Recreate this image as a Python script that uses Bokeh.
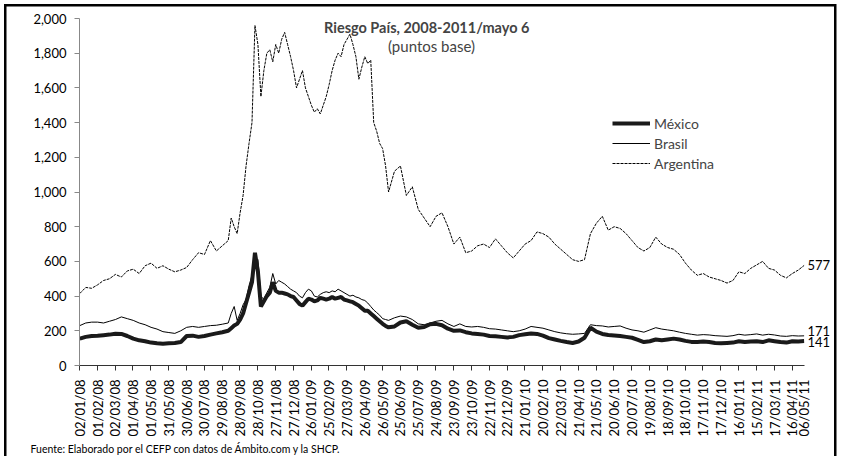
from datetime import datetime

from bokeh.plotting import figure
from bokeh.models import (FixedTicker, NumeralTickFormatter, Label, Legend, LegendItem,
                          Range1d, ColumnDataSource, LinearAxis, Title)
from bokeh.embed import file_html
from bokeh.resources import INLINE

# ---------------- data ----------------
start_date = "02/01/08"

tick_labels = ["02/01/08", "01/02/08", "02/03/08", "01/04/08", "01/05/08", "31/05/08",
               "30/06/08", "30/07/08", "29/08/08", "28/09/08", "28/10/08", "27/11/08",
               "27/12/08", "26/01/09", "25/02/09", "27/03/09", "26/04/09", "26/05/09",
               "25/06/09", "25/07/09", "24/08/09", "23/09/09", "23/10/09", "22/11/09",
               "22/12/09", "21/01/10", "20/02/10", "22/03/10", "21/04/10", "21/05/10",
               "20/06/10", "20/07/10", "19/08/10", "18/09/10", "18/10/10", "17/11/10",
               "17/12/10", "16/01/11", "15/02/11", "17/03/11", "16/04/11", "06/05/11"]

# observation days (days after 02/01/08): every 10 days, every 5 days in the 2008-09 crisis
obs_days = list(range(0, 250, 10)) + list(range(250, 520, 5)) + list(range(520, 1221, 10))

mexico = [155, 165, 170, 172, 175, 178, 183, 182, 170, 155, 145, 140, 132, 128, 125, 128,
          130, 135, 170, 172, 165, 170, 178, 185, 192,
          200, 215, 230, 240, 265, 300, 360, 420, 480, 650,
          540, 340, 370, 400, 420, 480, 430, 420, 420, 415,
          410, 400, 395, 375, 355, 345, 365, 385, 380, 370,
          375, 390, 385, 380, 385, 395, 385, 390, 395, 380,
          375, 370, 365, 355, 345, 330, 315, 315, 300, 285,
          270, 255, 240, 228,
          220, 225, 248, 255, 235, 218, 222, 238, 240, 232,
          212, 200, 202, 192, 185, 182, 178, 170, 168, 165,
          162, 165, 175, 180, 185, 182, 172, 158, 150, 142,
          135, 130, 138, 160, 218, 195, 182, 176, 173, 170,
          165, 160, 148, 135, 140, 150, 145, 150, 155, 150,
          142, 136, 135, 138, 135, 130, 128, 130, 132, 140,
          135, 138, 140, 135, 145, 140, 135, 132, 140, 138,
          141]

brasil = [230, 245, 250, 250, 245, 255, 265, 280, 270, 260, 245, 235, 220, 210, 195, 190,
          185, 200, 220, 225, 220, 225, 230, 232, 238,
          245, 300, 340, 260, 300, 350, 380, 460, 520, 580,
          610, 400, 380, 420, 450, 530, 470, 490, 480, 470,
          455, 440, 430, 420, 400, 390, 420, 440, 430, 400,
          395, 410, 420, 425, 420, 430, 425, 440, 430, 420,
          410, 400, 405, 395, 390, 380, 375, 360, 340, 320,
          305, 290, 270, 265,
          260, 275, 285, 280, 265, 240, 235, 245, 255, 260,
          240, 225, 240, 225, 222, 225, 220, 212, 210, 205,
          200, 195, 200, 210, 225, 220, 215, 205, 195, 188,
          183, 180, 182, 185, 235, 230, 228, 222, 225, 228,
          215, 205, 200, 192, 205, 218, 210, 205, 200, 192,
          185, 180, 175, 178, 176, 172, 170, 168, 172, 180,
          175, 178, 182, 175, 180, 176, 170, 168, 172, 170,
          171]

argentina = [415, 450, 445, 465, 490, 500, 525, 510, 545, 555, 530, 575, 590, 560, 575, 555,
             540, 550, 565, 610, 650, 640, 720, 660, 690,
             720, 850, 800, 760, 880, 980, 1150, 1280, 1400, 1960,
             1850, 1550, 1700, 1800, 1820, 1750, 1850, 1800, 1880, 1920,
             1850, 1780, 1700, 1600, 1650, 1700, 1600, 1550, 1500, 1460,
             1480, 1450, 1500, 1550, 1620, 1700, 1760, 1800, 1780, 1850,
             1880, 1910, 1850, 1780, 1650, 1720, 1780, 1740, 1760, 1400,
             1350, 1280, 1250, 1150,
             1000, 1120, 1150, 980, 1030, 900, 850, 800, 860, 880,
             800, 700, 740, 650, 660, 690, 700, 680, 730, 690,
             650, 620, 660, 700, 720, 770, 760, 740, 700, 670,
             640, 610, 600, 610, 760, 820, 860, 780, 800, 790,
             760, 720, 680, 660, 680, 740, 700, 680, 670, 640,
             590, 550, 520, 530, 510, 500, 490, 475, 490, 540,
             530, 560, 580, 600, 560, 550, 520, 505, 530, 550,
             577]

series_names = ["México", "Brasil", "Argentina"]
title_text = "Riesgo País, 2008-2011/mayo  6"
subtitle_text = "(puntos base)"
source_text = "Fuente: Elaborado por el CEFP con datos de Ámbito.com y la SHCP."

# ---------------- chart ----------------
FONT = "Lato"
d0 = datetime.strptime(start_date, "%d/%m/%y")
label_pos = [(datetime.strptime(s, "%d/%m/%y") - d0).days for s in tick_labels]
last_day = obs_days[-1]

src = ColumnDataSource(dict(x=obs_days, mex=mexico, bra=brasil, arg=argentina))

p = figure(width=841, height=456, title=None,
           x_range=Range1d(-0.5, last_day + 0.5), y_range=Range1d(0, 2000),
           output_backend="svg", toolbar_location=None,
           min_border_left=79, min_border_right=37, min_border_top=18, min_border_bottom=91)
p.xgrid.visible = False
p.ygrid.visible = False
p.outline_line_color = None
p.background_fill_color = None
p.border_fill_color = None
# outer chart border (left, top, right; the bottom edge lies outside the picture)
p.styles = {
    "background-color": "white",
    "background-image": "linear-gradient(#000,#000), linear-gradient(#000,#000), linear-gradient(#000,#000)",
    "background-size": "2.5px 100%, 832px 2.5px, 2.5px 100%",
    "background-position": "4px 4px, 4px 4px, 834px 4px",
    "background-repeat": "no-repeat",
}

r_arg = p.line("x", "arg", source=src, line_color="black", line_width=1, line_dash="3 1")
r_bra = p.line("x", "bra", source=src, line_color="black", line_width=1)
r_mex = p.line("x", "mex", source=src, line_color="#1a1a1a", line_width=4)

# x axis: labels at dates, tick marks between categories
xa = p.xaxis[0]
xa.ticker = FixedTicker(ticks=label_pos, minor_ticks=[v - 0.5 for v in label_pos[:-1]])
xa.major_label_overrides = {v: s for v, s in zip(label_pos, tick_labels)}
xa.major_label_orientation = 3.14159265 / 2
xa.major_tick_line_color = None
xa.minor_tick_line_color = "#333333"
xa.minor_tick_out = 5
xa.minor_tick_in = 0
xa.axis_line_color = "#333333"
xa.major_label_standoff = 8
xa.major_label_text_font = FONT
xa.major_label_text_font_size = "13px"
xa.major_label_text_color = "black"

ya = p.yaxis[0]
ya.ticker = FixedTicker(ticks=list(range(0, 2001, 200)))
ya.formatter = NumeralTickFormatter(format="0,0")
ya.axis_line_color = "#888888"
ya.major_tick_line_color = "#888888"
ya.major_tick_out = 5
ya.major_tick_in = 0
ya.minor_tick_line_color = None
ya.major_label_standoff = 8
ya.major_label_text_font = FONT
ya.major_label_text_font_size = "13px"
ya.major_label_text_color = "black"

# end-of-series values as labels of a bare right axis (Brasil/México nudged apart)
end_vals = [argentina[-1], brasil[-1], mexico[-1]]
end_pos = [end_vals[0], end_vals[1] + 25, end_vals[2] - 8]
ra = LinearAxis(ticker=FixedTicker(ticks=end_pos),
                major_label_overrides={pos: str(v) for pos, v in zip(end_pos, end_vals)},
                axis_line_color=None, major_tick_line_color=None, minor_tick_line_color=None,
                major_tick_out=0, major_tick_in=0, minor_tick_out=0, minor_tick_in=0,
                major_label_standoff=3, major_label_text_font=FONT,
                major_label_text_font_size="13px", major_label_text_color="black")
p.add_layout(ra, "right")

legend = Legend(items=[LegendItem(label=series_names[0], renderers=[r_mex]),
                       LegendItem(label=series_names[1], renderers=[r_bra]),
                       LegendItem(label=series_names[2], renderers=[r_arg])],
                location=(533, 192), glyph_width=38, glyph_height=20, label_height=20,
                spacing=0, padding=0, margin=0, label_standoff=4,
                border_line_color=None, background_fill_alpha=0,
                label_text_font=FONT, label_text_font_size="14px")
p.add_layout(legend)

p.add_layout(Label(x=349, y=338, x_units="screen", y_units="screen", text=title_text,
                   text_align="center", text_baseline="middle", text_font=FONT,
                   text_font_size="14.5px", text_font_style="bold"))
p.add_layout(Label(x=352, y=320, x_units="screen", y_units="screen", text=subtitle_text,
                   text_align="center", text_baseline="middle", text_font=FONT,
                   text_font_size="15px"))

p.add_layout(Title(text=source_text, align="left", offset=-49, standoff=2,
                   text_font=FONT, text_font_size="10.5px", text_font_style="normal",
                   text_color="black"), "below")

open("out.html", "w").write(file_html(p, INLINE))
